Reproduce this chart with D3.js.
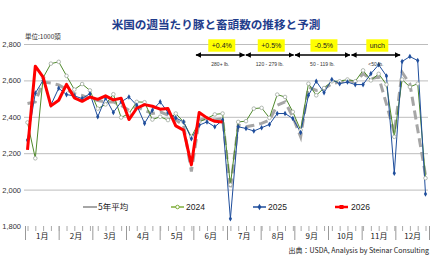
<!DOCTYPE html>
<html>
<head>
<meta charset="utf-8">
<script src="https://cdn.jsdelivr.net/npm/d3@7"></script>
<style>
  body { margin: 0; background: #fff; }
  svg { display: block; font-family: "Liberation Sans", Arial, sans-serif; }
  .jp { font-family: "Noto Sans CJK JP", sans-serif; }
</style>
</head>
<body>
<div id="chart"></div>
<script>
// data (1000 head per week)
var months = ["1月","2月","3月","4月","5月","6月","7月","8月","9月","10月","11月","12月"];
var yTicks = [1800, 2000, 2200, 2400, 2600, 2800];

var avg5 = [2473,2482,2591,2585,2575,2550,2527,2518,2500,2490,2482,2482,2463,2436,2454,2436,
            2418,2427,2409,2382,2354,2100,2382,2391,2382,2391,2000,2354,2345,2354,2364,2382,
            2463,2482,2400,2290,2564,2545,2555,2582,2591,2600,2591,2636,2609,2618,2470,2310,
            2645,2580,2330,2080];
var y2024 = [2369,2172,2615,2692,2702,2625,2550,2580,2545,2445,2468,2524,2396,2418,2482,2480,
             2385,2400,2382,2418,2372,2290,2372,2391,2413,2418,2027,2372,2376,2445,2449,2394,
             2522,2509,2427,2327,2582,2518,2558,2595,2595,2605,2595,2655,2600,2636,2577,2290,
             2605,2564,2582,2063];
var y2025 = [2272,2530,2600,2465,2557,2522,2515,2500,2527,2400,2504,2424,2482,2509,2463,2364,
             2436,2482,2424,2394,2372,2280,2354,2372,2345,2382,1840,2345,2336,2322,2340,2358,
             2418,2418,2391,2314,2518,2595,2533,2605,2582,2591,2577,2577,2637,2686,2624,2090,
             2704,2731,2709,1976];
var y2026 = [2218,2678,2618,2460,2491,2578,2504,2485,2509,2496,2515,2493,2502,2385,2447,2467,
             2458,2442,2445,2350,2327,2136,2424,2394,2375,2372];

// forecast annotations
var changes = ["+0.4%", "+0.5%", "-0.5%", "unch"];
var weights = ["280+ lb.", "120 - 279 lb.", "50 - 119 lb.", "<50 lb."];
var spans = [[5.08, 6.52], [6.56, 7.98], [8.02, 9.65], [9.7, 11.14]];

var width = 430, height = 275;

var svg = d3.select("#chart")
  .append("svg")
    .attr("width", width)
    .attr("height", height);

// scales
var x = d3.scaleLinear().domain([0, 51]).range([27.5, 425.5]);
var m = d3.scaleLinear().domain([0, 12]).range([25, 429]);
var y = d3.scaleLinear().domain([1800, 2800]).range([226, 44]);

// title
svg.append("text")
  .attr("class", "jp")
  .attr("x", 216).attr("y", 29)
  .attr("text-anchor", "middle")
  .style("font-size", "11.6px")
  .style("font-weight", "bold")
  .style("fill", "#1f3d8c")
  .text("米国の週当たり豚と畜頭数の推移と予測");

svg.append("text")
  .attr("class", "jp")
  .attr("x", 25).attr("y", 39)
  .style("font-size", "6.5px")
  .style("fill", "#333")
  .text("単位:1000頭");

// grid lines
svg.append("g")
  .attr("transform", "translate(24,0)")
  .call(d3.axisLeft(y).tickValues(yTicks.slice(1)).tickSize(-404).tickFormat(""))
  .call(g => g.select(".domain").remove())
  .selectAll("line")
    .attr("stroke", "#bdbdbd")
    .attr("stroke-width", 1);

// y labels
svg.append("g")
  .attr("transform", "translate(21,0)")
  .call(d3.axisLeft(y).tickValues(yTicks).tickSize(0).tickPadding(0).tickFormat(d3.format(",")))
  .call(g => g.select(".domain").remove())
  .selectAll("text")
    .style("font-size", "7.5px")
    .style("font-family", "'Liberation Sans', Arial, sans-serif")
    .style("fill", "#333");

// x axis: month ticks, weekly ticks, month labels
svg.append("g")
  .attr("transform", "translate(0,226)")
  .call(d3.axisBottom(m).tickValues(d3.range(13)).tickSize(14).tickFormat(""))
  .call(g => g.select(".domain").remove())
  .selectAll("line").attr("stroke", "#999");

svg.append("g")
  .attr("transform", "translate(0,226)")
  .call(d3.axisBottom(x).tickValues(d3.range(52)).tickSize(5).tickFormat(""))
  .call(g => g.select(".domain").remove())
  .selectAll("line").attr("stroke", "#aaa");

svg.append("g")
  .attr("transform", "translate(0,226)")
  .call(d3.axisBottom(m).tickValues(d3.range(12).map(d => d + 0.5)).tickSize(0).tickPadding(7)
    .tickFormat((d, i) => months[i]))
  .call(g => g.select(".domain").remove())
  .selectAll("text")
    .attr("class", "jp")
    .style("font-size", "8px")
    .style("fill", "#222");

// lines
var line = data => d3.line().x((d, i) => x(i)).y(d => y(d))(data);

svg.append("path")
  .attr("d", line(avg5))
  .attr("fill", "none")
  .attr("stroke", "#a6a6a6")
  .attr("stroke-width", 3)
  .attr("stroke-dasharray", "9,5");

svg.append("path")
  .attr("d", line(y2024))
  .attr("fill", "none")
  .attr("stroke", "#4f8a2b")
  .attr("stroke-width", 1);

svg.append("path")
  .attr("d", line(y2025))
  .attr("fill", "none")
  .attr("stroke", "#1f4e9c")
  .attr("stroke-width", 1);

svg.selectAll("circle.p24")
  .data(y2024)
  .join("circle")
    .attr("class", "p24")
    .attr("cx", (d, i) => x(i))
    .attr("cy", d => y(d))
    .attr("r", 1.8)
    .attr("fill", "#fff")
    .attr("stroke", "#a0a8a0")
    .attr("stroke-width", 0.8);

svg.selectAll("path.p25")
  .data(y2025)
  .join("path")
    .attr("class", "p25")
    .attr("d", d3.symbol(d3.symbolDiamond, 9))
    .attr("transform", (d, i) => `translate(${x(i)},${y(d)})`)
    .attr("fill", "#1f4e9c");

svg.append("path")
  .attr("d", line(y2026))
  .attr("fill", "none")
  .attr("stroke", "#ff0000")
  .attr("stroke-width", 3)
  .attr("stroke-linejoin", "round");

// forecast arrows and boxes
svg.append("defs").append("marker")
  .attr("id", "head")
  .attr("viewBox", "0 0 10 10")
  .attr("refX", 9).attr("refY", 5)
  .attr("markerWidth", 4).attr("markerHeight", 4)
  .attr("orient", "auto-start-reverse")
  .append("path")
    .attr("d", "M0,0L10,5L0,10z")
    .attr("fill", "#000");

var ann = svg.append("g");
spans.forEach(function(s, i) {
  var cx = m((s[0] + s[1]) / 2);
  ann.append("line")
    .attr("x1", m(s[0])).attr("x2", m(s[1]))
    .attr("y1", 55).attr("y2", 55)
    .attr("stroke", "#000")
    .attr("stroke-width", 1.4)
    .attr("marker-start", "url(#head)")
    .attr("marker-end", "url(#head)");
  var bw = changes[i] == "unch" ? 22 : 27;
  ann.append("rect")
    .attr("x", cx - bw / 2 + 1.5).attr("y", 39.3)
    .attr("width", bw).attr("height", 12.4)
    .attr("fill", "#ffff00");
  ann.append("text")
    .attr("x", cx + 1.5).attr("y", 48)
    .attr("text-anchor", "middle")
    .style("font-size", "7px")
    .style("fill", "#222")
    .text(changes[i]);
  ann.append("text")
    .attr("x", cx).attr("y", 66)
    .attr("text-anchor", "middle")
    .style("font-size", "5px")
    .style("fill", "#333")
    .text(weights[i]);
});

// legend
var legend = [
  {name: "5年平均", x: 83},
  {name: "2024", x: 171},
  {name: "2025", x: 253},
  {name: "2026", x: 335}
];
var lg = svg.append("g").attr("transform", "translate(0,207)");

lg.append("line").attr("x1", 83).attr("x2", 97).attr("stroke", "#a6a6a6").attr("stroke-width", 2);
lg.append("line").attr("x1", 171).attr("x2", 184).attr("stroke", "#7fae3a").attr("stroke-width", 1.5);
lg.append("circle").attr("cx", 177.5).attr("r", 1.8).attr("fill", "#fff").attr("stroke", "#7fae3a");
lg.append("line").attr("x1", 253).attr("x2", 266).attr("stroke", "#1f4e9c").attr("stroke-width", 1.5);
lg.append("path").attr("d", d3.symbol(d3.symbolDiamond, 12)).attr("transform", "translate(259.5,0)").attr("fill", "#1f4e9c");
lg.append("line").attr("x1", 335).attr("x2", 348).attr("stroke", "#ff0000").attr("stroke-width", 2.5);
lg.append("rect").attr("x", 339.5).attr("y", -2).attr("width", 4).attr("height", 4).attr("fill", "#ff0000");

lg.selectAll("text")
  .data(legend)
  .join("text")
    .attr("class", (d, i) => i == 0 ? "jp" : null)
    .attr("x", (d, i) => [98, 186, 268, 351][i])
    .attr("y", 3)
    .style("font-size", "8.5px")
    .style("fill", "#222")
    .text(d => d.name);

// source
svg.append("text")
  .attr("class", "jp")
  .attr("x", 429).attr("y", 253)
  .attr("text-anchor", "end")
  .style("font-size", "7px")
  .style("fill", "#222")
  .text("出典：USDA, Analysis by Steinar Consulting");
</script>
</body>
</html>
